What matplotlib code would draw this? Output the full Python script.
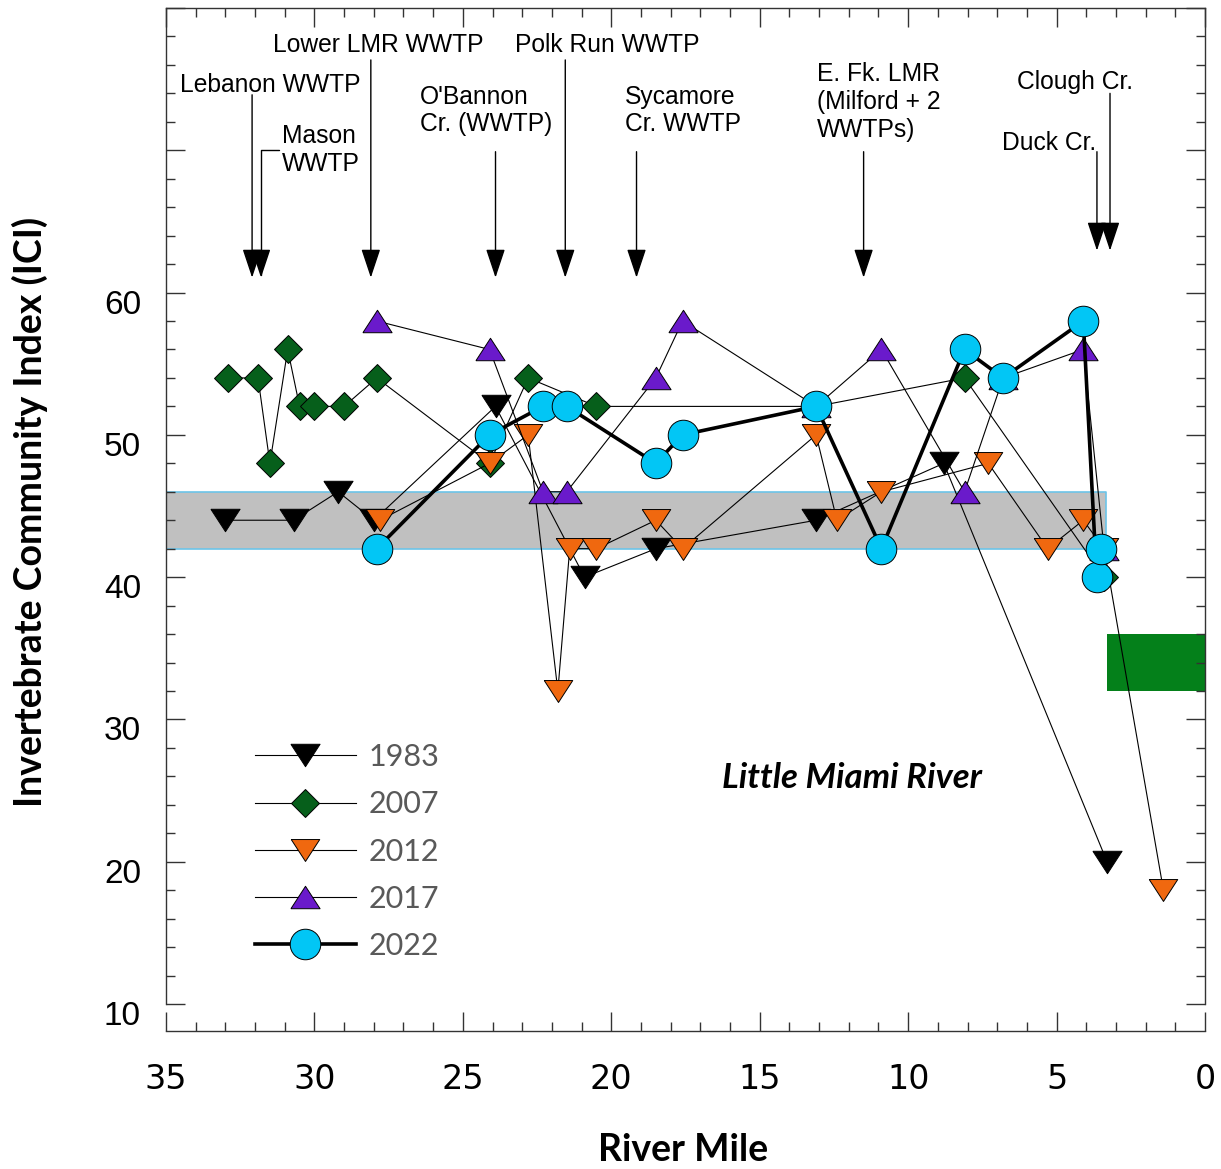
import matplotlib
matplotlib.use("Agg")
import matplotlib.pyplot as plt
import matplotlib.transforms as mtransforms
from matplotlib.ticker import MultipleLocator, FuncFormatter

# ICI scores by river mile, one pair of lists per survey year
MILE_1983 = [33.0, 30.7, 29.2, 28.0, 23.9, 20.9, 18.5, 13.1, 8.8, 3.3]
ICI_1983 = [44, 44, 46, 44, 52, 40, 42, 44, 48, 20]

MILE_2007 = [32.9, 31.9, 31.5, 30.9, 30.5, 30.0, 29.0, 27.9, 24.1, 22.8, 20.5, 13.1, 8.1, 3.4]
ICI_2007 = [54, 54, 48, 56, 52, 52, 52, 54, 48, 54, 52, 52, 54, 40]

MILE_2012 = [27.8, 24.1, 22.8, 21.8, 21.4, 20.5, 18.5, 17.6, 13.1, 12.4, 10.9, 7.3, 5.3, 4.1, 3.4, 1.4]
ICI_2012 = [44, 48, 50, 32, 42, 42, 44, 42, 50, 44, 46, 48, 42, 44, 42, 18]

MILE_2017 = [27.9, 24.1, 22.3, 21.5, 18.5, 17.6, 13.1, 10.9, 8.1, 6.8, 4.1, 3.4]
ICI_2017 = [58, 56, 46, 46, 54, 58, 52, 56, 46, 54, 56, 42]

MILE_2022 = [27.9, 24.1, 22.3, 21.5, 18.5, 17.6, 13.1, 10.9, 8.1, 6.8, 4.1, 3.65, 3.5]
ICI_2022 = [42, 50, 52, 52, 48, 50, 52, 42, 56, 54, 58, 40, 42]

# shaded ICI ranges (low, high) and the river miles they cover
GREY_BAND = (42, 46)
GREY_BAND_MILES = (35, 3.35)
GREEN_BAND = (32, 36)
GREEN_BAND_MILES = (3.3, 0)

# point sources: label, river mile, arrow tip ICI, line top ICI, label anchor (mile, ICI)
SOURCE_NAMES = ["Lebanon WWTP", "Mason\nWWTP", "Lower LMR WWTP", "O'Bannon\nCr. (WWTP)",
                "Polk Run WWTP", "Sycamore\nCr. WWTP", "E. Fk. LMR\n(Milford + 2\nWWTPs)",
                "Duck Cr.", "Clough Cr."]
SOURCE_MILES = [32.1, 31.8, 28.1, 23.9, 21.55, 19.15, 11.5, 3.64, 3.2]
SOURCE_TIPS = [61.05, 61.05, 61.05, 61.05, 61.05, 61.05, 61.05, 62.95, 62.95]
SOURCE_TOPS = [73.9, 70.0, 76.35, 69.9, 76.35, 69.9, 69.9, 69.9, 74.0]
SOURCE_TEXT_MILES = [34.53, 31.1, 31.4, 26.44, 23.24, 19.54, 13.07, 6.84, 6.33]
SOURCE_TEXT_ICI = [74.6, 70.0, 77.4, 72.8, 77.4, 72.8, 73.4, 70.5, 74.8]

YEARS = ["1983", "2007", "2012", "2017", "2022"]

# squat triangles, wider than tall
TRI_DOWN = [(-1, 0.77), (1, 0.77), (0, -0.77), (-1, 0.77)]
TRI_UP = [(-1, -0.77), (1, -0.77), (0, 0.77), (-1, -0.77)]

fig = plt.figure(figsize=(12.21, 11.69), dpi=100)
ax = fig.add_axes([166 / 1221, 1 - 1004 / 1169, (1205 - 166) / 1221, (1004 - 8) / 1169])

ax.fill_between(GREY_BAND_MILES, GREY_BAND[0], GREY_BAND[1], facecolor="#c0c0c0",
                edgecolor="#6cc4e8", linewidth=1.2, zorder=1)
ax.fill_between(GREEN_BAND_MILES, GREEN_BAND[0], GREEN_BAND[1], facecolor="#04801a",
                edgecolor="none", zorder=1)

series = [
    (MILE_1983, ICI_1983, TRI_DOWN, "black", 21, 0.8),
    (MILE_2007, ICI_2007, "D", "#065f1b", 14.5, 0.8),
    (MILE_2012, ICI_2012, TRI_DOWN, "#f0680f", 20.5, 0.8),
    (MILE_2017, ICI_2017, TRI_UP, "#6a1acb", 21, 0.8),
    (MILE_2022, ICI_2022, "o", "#02c6f5", 22, 2.6),
]
for (miles, ici, marker, color, ms, lw), year in zip(series, YEARS):
    ax.plot(miles, ici, color="black", linewidth=lw, marker=marker, markersize=ms,
            markerfacecolor=color, markeredgecolor="black", markeredgewidth=0.7,
            label=year, zorder=3)

label_font = dict(family="Liberation Sans", size=17.7)
for name, mile, tip, top, tx, ty in zip(SOURCE_NAMES, SOURCE_MILES, SOURCE_TIPS,
                                        SOURCE_TOPS, SOURCE_TEXT_MILES, SOURCE_TEXT_ICI):
    ax.text(tx, ty, name, ha="left", va="center", linespacing=1.2, **label_font)
    start = (mile, top)
    conn = "arc3"
    if name.startswith("Mason"):
        start = (tx + 0.1, top)
        conn = "angle,angleA=0,angleB=90,rad=0"
    ax.annotate("", xy=(mile, tip), xytext=start,
                arrowprops=dict(arrowstyle="-|>,head_length=1.8,head_width=0.6",
                                mutation_scale=10, color="black", lw=1.0,
                                shrinkA=0, shrinkB=0, connectionstyle=conn))

ax.text(11.9, 25.9, "Little Miami River", ha="center", va="center",
        family="Lato", weight="bold", style="italic", size=25)

ax.set_xlim(35, 0)
ax.set_ylim(10, 80)
ax.xaxis.set_major_locator(MultipleLocator(5))
ax.xaxis.set_minor_locator(MultipleLocator(1))
ax.yaxis.set_major_locator(MultipleLocator(10))
ax.yaxis.set_minor_locator(MultipleLocator(2))
ax.yaxis.set_major_formatter(FuncFormatter(lambda v, _: f"{v:.0f}" if v <= 60 else ""))
ax.xaxis.set_major_formatter(FuncFormatter(lambda v, _: f"{v:.0f}"))

ax.tick_params(which="both", direction="in", top=True, right=True, color="#333333")
ax.tick_params(which="major", length=13.5, width=1.0)
ax.tick_params(which="minor", length=6.5, width=1.0)
ax.tick_params(axis="y", which="major", pad=18, labelsize=24)
ax.tick_params(axis="x", which="major", pad=23, labelsize=24)
for lbl in ax.get_yticklabels() + ax.get_xticklabels():
    lbl.set_family("Liberation Sans")
shift = mtransforms.ScaledTranslation(0, -6.5 / 72, fig.dpi_scale_trans)
for lbl in ax.get_yticklabels():
    lbl.set_transform(lbl.get_transform() + shift)

ax.spines["bottom"].set_position(("outward", 19.5))
for side in ["left", "right", "top", "bottom"]:
    ax.spines[side].set_color("#333333")
    ax.spines[side].set_linewidth(1.0)

fig.text(30 / 1221, 1 - 512 / 1169, "Invertebrate Community Index (ICI)", rotation=90,
         ha="center", va="center", family="Lato", weight="bold", size=27)
fig.text(683 / 1221, 1 - 1150 / 1169, "River Mile", ha="center", va="center",
         family="Lato", weight="bold", size=27)

leg = ax.legend(loc="upper left", bbox_to_anchor=(0.0857, 0.262), frameon=False,
                prop=dict(family="Lato", size=22), handlelength=3.3, handletextpad=0.42,
                labelspacing=0.63, borderpad=0, borderaxespad=0, numpoints=1)
for t in leg.get_texts():
    t.set_color("#595959")

fig.savefig("out.png", dpi=100)
